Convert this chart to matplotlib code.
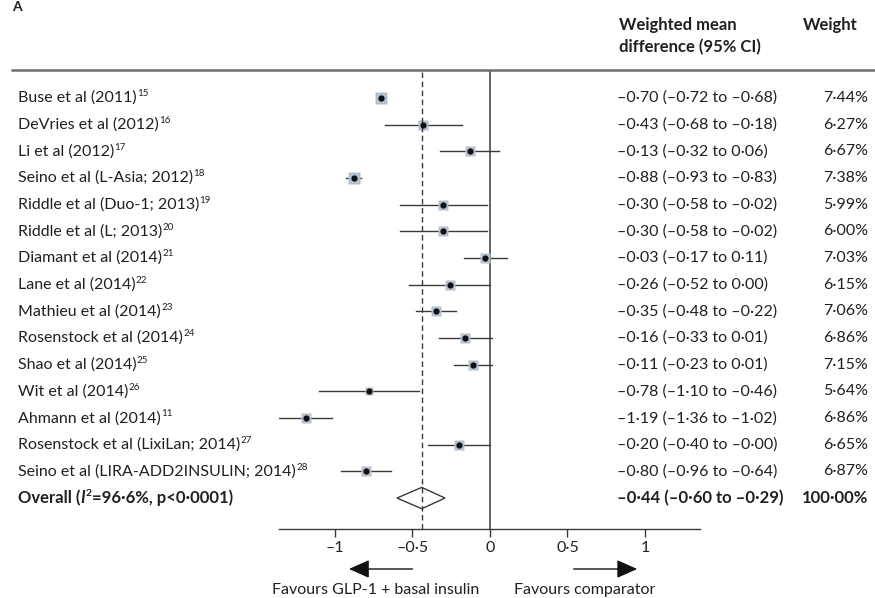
import matplotlib
matplotlib.use("Agg")
import matplotlib.pyplot as plt
import matplotlib.transforms as mtransforms
from matplotlib.patches import Polygon

plt.rcParams["font.family"] = ["Lato", "DejaVu Sans"]

# ---------------- Data ----------------
studies = [
    "Buse et al (2011)", "DeVries et al (2012)", "Li et al (2012)",
    "Seino et al (L-Asia; 2012)", "Riddle et al (Duo-1; 2013)",
    "Riddle et al (L; 2013)", "Diamant et al (2014)", "Lane et al (2014)",
    "Mathieu et al (2014)", "Rosenstock et al (2014)", "Shao et al (2014)",
    "Wit et al (2014)", "Ahmann et al (2014)",
    "Rosenstock et al (LixiLan; 2014)", "Seino et al (LIRA-ADD2INSULIN; 2014)",
]
refs = ["15", "16", "17", "18", "19", "20", "21", "22", "23", "24", "25",
        "26", "11", "27", "28"]
wmd = [-0.70, -0.43, -0.13, -0.88, -0.30, -0.30, -0.03, -0.26, -0.35,
       -0.16, -0.11, -0.78, -1.19, -0.20, -0.80]
ci_low = [-0.72, -0.68, -0.32, -0.93, -0.58, -0.58, -0.17, -0.52, -0.48,
          -0.33, -0.23, -1.10, -1.36, -0.40, -0.96]
ci_high = [-0.68, -0.18, 0.06, -0.83, -0.02, -0.02, 0.11, 0.00, -0.22,
           0.01, 0.01, -0.46, -1.02, -0.00, -0.64]
weights = [7.44, 6.27, 6.67, 7.38, 5.99, 6.00, 7.03, 6.15, 7.06, 6.86,
           7.15, 5.64, 6.86, 6.65, 6.87]
overall_est, overall_low, overall_high = -0.44, -0.60, -0.29
overall_weight = 100.00
xticks = [-1, -0.5, 0, 0.5, 1]
xtick_labels = ["\u20131", "\u20130\u00b75", "0", "0\u00b75", "1"]

TEXT = "#231f20"
LINE = "#3a3a3a"
SQUARE = "#b4c0cc"
W, H = 875, 598
FS = 11.5      # body text
FS_B = 12      # bold rows / header
FS_SUP = 7


def fmt(v):
    return f"{v:.2f}".replace("-", "\u2013").replace(".", "\u00b7")


def fx(px):
    return px / W


def fy(py):
    return 1 - py / H


fig = plt.figure(figsize=(8.75, 5.98), dpi=100)
ax = fig.add_axes([fx(279), fy(529), fx(700) - fx(279), (529 - 70) / H])

n = len(studies)
rows = [-i for i in range(n)]
y_overall = -n

ax.set_xlim(-1.361, 1.355)
ax.set_ylim(-16.16, 1.05)
for s in ("top", "left", "right"):
    ax.spines[s].set_visible(False)
ax.spines["bottom"].set_color(LINE)
ax.spines["bottom"].set_linewidth(1.0)
ax.set_yticks([])
ax.set_xticks(xticks)
ax.set_xticklabels(xtick_labels, fontsize=FS, color=TEXT)
ax.tick_params(axis="x", length=6, width=1, color=LINE, pad=3)

# reference lines
ax.axvline(0, color=LINE, lw=1.1, zorder=1)
ax.axvline(overall_est, color=LINE, lw=1.0, ls=(0, (4, 2.5)), zorder=4)

# study estimates
for y, m, lo, hi, w in zip(rows, wmd, ci_low, ci_high, weights):
    ax.plot([lo, hi], [y, y], color=LINE, lw=1.0, zorder=2)
    ax.plot(m, y, marker="s", ms=w * 1.1, color=SQUARE, mec="none", zorder=3)
    ax.plot(m, y, marker="o", ms=4.5, color="#111111", mec="none", zorder=4)

# overall diamond
dh = 0.4
ax.add_patch(Polygon([(overall_low, y_overall), (overall_est, y_overall + dh),
                      (overall_high, y_overall), (overall_est, y_overall - dh)],
                     closed=True, facecolor="none", edgecolor=LINE, lw=1.0,
                     zorder=3))

# text columns
tr = mtransforms.blended_transform_factory(fig.transFigure, ax.transData)
for y, name, ref, m, lo, hi, w in zip(rows, studies, refs, wmd, ci_low,
                                       ci_high, weights):
    t = ax.text(fx(18), y, name, transform=tr, va="center", ha="left",
                fontsize=FS, color=TEXT)
    ax.annotate(ref, xy=(1, 1), xycoords=t, xytext=(0.2, 1.2),
                textcoords="offset points", va="top", ha="left",
                fontsize=FS_SUP, color=TEXT)
    ax.text(fx(617), y, f"{fmt(m)} ({fmt(lo)} to {fmt(hi)})", transform=tr,
            va="center", ha="left", fontsize=FS, color=TEXT)
    ax.text(fx(868), y, f"{fmt(w)}%", transform=tr, va="center", ha="right",
            fontsize=FS, color=TEXT)

# overall row, bold with italic I and superscript 2
t1 = ax.text(fx(18), y_overall, "Overall (", transform=tr, va="center",
             ha="left", fontsize=FS_B, fontweight="bold", color=TEXT)
t2 = ax.annotate("I", xy=(1, 0), xycoords=t1, va="bottom", ha="left",
                 fontsize=FS_B, fontweight="bold", style="italic", color=TEXT)
t3 = ax.annotate("2", xy=(1, 1), xycoords=t2, xytext=(0.3, 1.2),
                 textcoords="offset points", va="top", ha="left",
                 fontsize=FS_SUP + 0.5, fontweight="bold", color=TEXT)
ax.annotate("=96\u00b76%, p<0\u00b70001)", xy=(1, 0), xycoords=(t3, t2),
            va="bottom", ha="left", fontsize=FS_B, fontweight="bold",
            color=TEXT)
ax.text(fx(617), y_overall,
        f"{fmt(overall_est)} ({fmt(overall_low)} to {fmt(overall_high)})",
        transform=tr, va="center", ha="left", fontsize=FS_B,
        fontweight="bold", color=TEXT)
ax.text(fx(868), y_overall, f"{fmt(overall_weight)}%", transform=tr,
        va="center", ha="right", fontsize=FS_B, fontweight="bold", color=TEXT)

# header
fig.text(fx(12), fy(1), "A", ha="left", va="top", fontsize=10,
         fontweight="bold", color=TEXT)
fig.text(fx(619), fy(25), "Weighted mean", ha="left", va="center",
         fontsize=FS_B, fontweight="bold", color=TEXT)
fig.text(fx(619), fy(47), "difference (95% CI)", ha="left", va="center",
         fontsize=FS_B, fontweight="bold", color=TEXT)
fig.text(fx(803), fy(25), "Weight", ha="left", va="center",
         fontsize=FS_B, fontweight="bold", color=TEXT)
fig.add_artist(plt.Line2D([fx(12), 1], [fy(70), fy(70)],
                          transform=fig.transFigure, color="#6f6f6f", lw=1.8))

# direction arrows
xa = ax.get_xaxis_transform()
arrow_y = -(569 - 529) / (529 - 70)
label_y = -(590 - 529) / (529 - 70)
arrowprops = dict(arrowstyle="-|>,head_length=0.9,head_width=0.4",
                  color="#111111", lw=1.0, shrinkA=0, shrinkB=0,
                  mutation_scale=14)
ax.annotate("", xy=(-0.91, arrow_y), xytext=(-0.5, arrow_y), xycoords=xa,
            textcoords=xa, arrowprops=arrowprops, annotation_clip=False)
ax.annotate("", xy=(0.95, arrow_y), xytext=(0.54, arrow_y), xycoords=xa,
            textcoords=xa, arrowprops=arrowprops, annotation_clip=False)
ax.text(-0.735, label_y, "Favours GLP-1 + basal insulin", transform=xa,
        ha="center", va="center", fontsize=FS, color=TEXT)
ax.text(0.61, label_y, "Favours comparator", transform=xa,
        ha="center", va="center", fontsize=FS, color=TEXT)

fig.savefig("out.png", dpi=100, facecolor="white")
